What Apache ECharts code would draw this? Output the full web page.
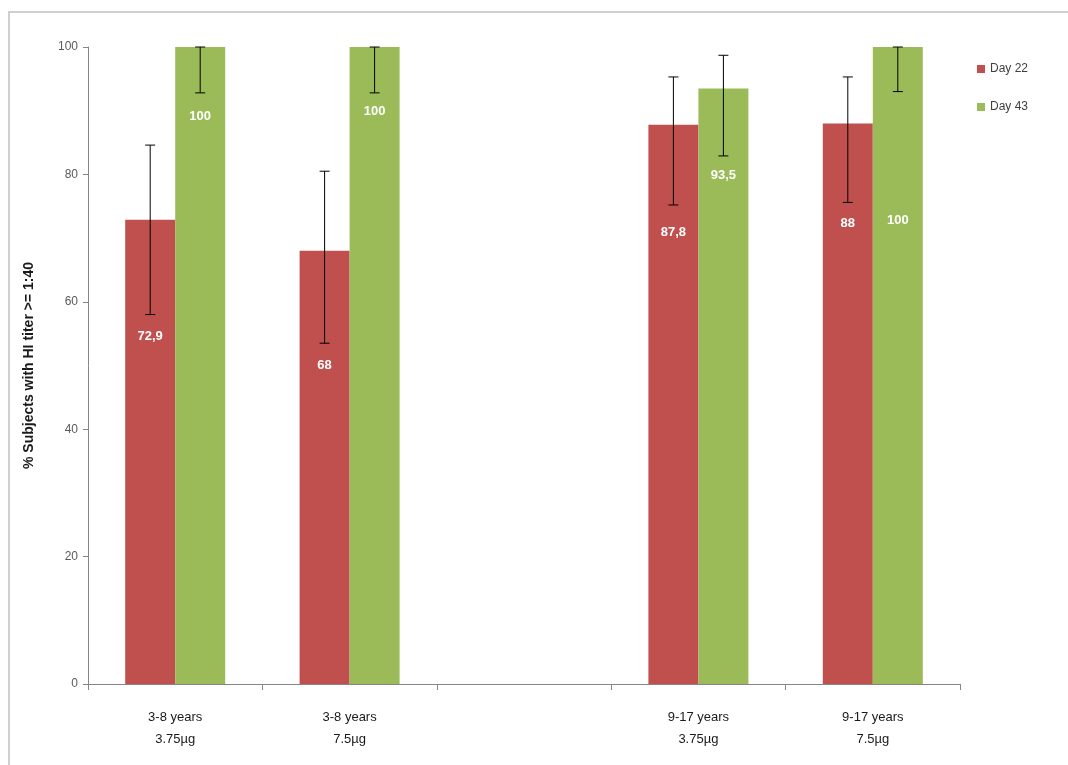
<!DOCTYPE html>
<html><head><meta charset="utf-8">
<script src="https://cdn.jsdelivr.net/npm/echarts@6/dist/echarts.min.js"></script>
<style>html,body{margin:0;padding:0;background:#fff}#c{width:1068px;height:765px}</style>
</head><body><div id="c"></div>
<script>
const categories = ['3-8 years\n3.75µg', '3-8 years\n7.5µg', '', '9-17 years\n3.75µg', '9-17 years\n7.5µg'];
const seriesNames = ['Day 22', 'Day 43'];
const day22 = [72.9, 68, null, 87.8, 88];
const day43 = [100, 100, null, 93.5, 100];
const day22Low = [58, 53.5, null, 75.2, 75.6];
const day22High = [84.6, 80.5, null, 95.3, 95.3];
const day43Low = [92.8, 92.8, null, 82.9, 93];
const day43High = [100, 100, null, 98.7, 100];
const yTicks = [0, 20, 40, 60, 80, 100];

// label placement styling (px from bar top)
const day22LabelDist = [110, 108, 0, 101, 93];
const day43LabelDist = [63, 58, 0, 81, 167];

const FONT = "'Liberation Sans Narrow','Liberation Sans',sans-serif";
const RED = '#C0504D', GREEN = '#9BBB59';
const BARW = 50;

function fmt(v){ return String(v).replace('.', ','); }

function barData(vals, dists){
  return vals.map((v,i)=> v==null ? '-' : ({value:v, label:{distance:dists[i]}}));
}

function errSeries(low, high, side){
  const data = low.map((l,i)=> l==null ? null : [i, l, high[i]]).filter(d=>d);
  return {
    type:'custom', silent:true, z:10,
    data: data,
    renderItem: function(params, api){
      const idx = api.value(0);
      const p1 = api.coord([idx, api.value(1)]);
      const p2 = api.coord([idx, api.value(2)]);
      const x = p1[0] + side*BARW/2;
      const cap = 5;
      return {type:'group', children:[
        {type:'line', shape:{x1:x,y1:p1[1],x2:x,y2:p2[1]}, style:{stroke:'#000',lineWidth:1}},
        {type:'line', shape:{x1:x-cap,y1:p1[1],x2:x+cap,y2:p1[1]}, style:{stroke:'#000',lineWidth:1}},
        {type:'line', shape:{x1:x-cap,y1:p2[1],x2:x+cap,y2:p2[1]}, style:{stroke:'#000',lineWidth:1}}
      ]};
    }
  };
}

const chart = echarts.init(document.getElementById('c'), null, {renderer:'canvas'});
chart.setOption({
  animation:false,
  textStyle:{fontFamily:FONT},
  graphic:[{type:'rect', shape:{x:9,y:12,width:1080,height:770}, style:{fill:'none', stroke:'#cfcfcf', lineWidth:2}, silent:true, z:-1}],
  grid:{left:88, right:108, top:47, bottom:81},
  legend:{
    orient:'vertical', left:972, top:58, itemWidth:8, itemHeight:8, itemGap:26,
    icon:'rect', data:seriesNames,
    textStyle:{fontFamily:FONT, fontSize:12, color:'#404040'}
  },
  xAxis:{
    type:'category', data:categories,
    axisLine:{lineStyle:{color:'#868686'}},
    axisTick:{show:true, length:6, lineStyle:{color:'#868686'}},
    axisLabel:{fontFamily:FONT, fontSize:13, color:'#1a1a1a', lineHeight:22, margin:22, interval:0}
  },
  yAxis:{
    type:'value', min:0, max:100, interval:20,
    name:'% Subjects with HI titer >= 1:40', nameLocation:'middle', nameGap:52, nameRotate:90,
    nameTextStyle:{fontFamily:FONT, fontSize:14, fontWeight:'bold', color:'#1a1a1a'},
    axisLine:{show:true, lineStyle:{color:'#868686'}},
    axisTick:{show:true, length:5, lineStyle:{color:'#868686'}},
    axisLabel:{fontFamily:FONT, fontSize:12, color:'#595959', margin:10,
      formatter:function(v){ return yTicks.indexOf(v)>=0 ? String(v) : ''; }},
    splitLine:{show:false}
  },
  series:[
    {name:seriesNames[0], type:'bar', data:barData(day22, day22LabelDist), barWidth:BARW, barGap:'0%',
     itemStyle:{color:RED},
     label:{show:true, position:'insideTop', color:'#fff', fontWeight:'bold', fontSize:13, fontFamily:FONT,
       formatter:p=>fmt(p.value)}},
    {name:seriesNames[1], type:'bar', data:barData(day43, day43LabelDist), barWidth:BARW, barGap:'0%',
     itemStyle:{color:GREEN},
     label:{show:true, position:'insideTop', color:'#fff', fontWeight:'bold', fontSize:13, fontFamily:FONT,
       formatter:p=>fmt(p.value)}},
    errSeries(day22Low, day22High, -1),
    errSeries(day43Low, day43High, 1)
  ]
});
</script></body></html>
